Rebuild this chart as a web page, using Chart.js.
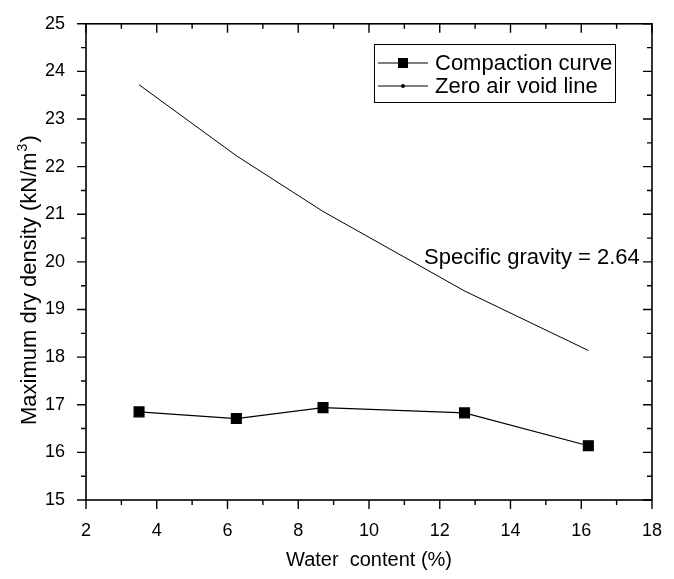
<!DOCTYPE html>
<html>
<head>
<meta charset="utf-8">
<script src="https://cdn.jsdelivr.net/npm/chart.js@4.4.1/dist/chart.umd.min.js"></script>
<style>
  html, body { margin: 0; padding: 0; background: #fff; }
  #wrap { width: 674px; height: 579px; }
</style>
</head>
<body>
<div id="wrap"><canvas id="chart" width="674" height="579"></canvas></div>
<script>
// water content (%) and dry density (kN/m3)
const waterContent = [3.5, 6.25, 8.7, 12.7, 16.2];
const compactionDensity = [16.85, 16.71, 16.94, 16.83, 16.14];
const zeroAirVoid = [23.72, 22.23, 21.06, 19.39, 18.14];
const xTicks = [2, 4, 6, 8, 10, 12, 14, 16, 18];
const yTicks = [15, 16, 17, 18, 19, 20, 21, 22, 23, 24, 25];
const legendLabels = ["Compaction curve", "Zero air void line"];
const noteText = "Specific gravity = 2.64";
const yTitle = ["Maximum dry density (kN/m", "3", ")"];

const FONT = "'Liberation Sans', Arial, sans-serif";

function toPoints(xs, ys) {
    return xs.map((x, i) => ({ x: x, y: ys[i] }));
}

// frame, ticks (inside on top/right, outside on bottom/left), legend, note, y title
const framePlugin = {
    id: "frame",
    afterDraw(chart) {
        const ctx = chart.ctx;
        const a = chart.chartArea;
        const xs = chart.scales.x, ys = chart.scales.y;
        ctx.save();
        ctx.strokeStyle = "#000";
        ctx.lineWidth = 1.6;
        ctx.strokeRect(a.left, a.top, a.right - a.left, a.bottom - a.top);

        ctx.lineWidth = 1.4;
        ctx.beginPath();
        for (let v = xs.min; v <= xs.max + 1e-9; v += 1) {
            const px = xs.getPixelForValue(v);
            const len = xTicks.includes(v) ? 9 : 5;
            ctx.moveTo(px, a.bottom); ctx.lineTo(px, a.bottom + len);
            ctx.moveTo(px, a.top); ctx.lineTo(px, a.top + len);
        }
        for (let v = ys.min; v <= ys.max + 1e-9; v += 0.5) {
            const py = ys.getPixelForValue(v);
            const len = yTicks.includes(v) ? 9 : 5;
            ctx.moveTo(a.left, py); ctx.lineTo(a.left - len, py);
            ctx.moveTo(a.right, py); ctx.lineTo(a.right - len, py);
        }
        ctx.stroke();

        // legend box
        const lx = 374, ly = 44, lw = 241, lh = 58;
        ctx.lineWidth = 1;
        ctx.strokeRect(lx + 0.5, ly + 0.5, lw, lh);
        const rows = [63, 86];
        ctx.font = "22px " + FONT;
        ctx.textBaseline = "middle";
        ctx.fillStyle = "#000";
        rows.forEach((ry, i) => {
            ctx.beginPath();
            ctx.lineWidth = 1.2;
            ctx.moveTo(378, ry); ctx.lineTo(428, ry);
            ctx.stroke();
            if (i === 0) {
                ctx.fillRect(398, ry - 5, 10, 10);
            } else {
                ctx.beginPath();
                ctx.arc(403, ry, 2, 0, Math.PI * 2);
                ctx.fill();
            }
            ctx.fillText(legendLabels[i], 435, ry + 1);
        });

        ctx.fillText(noteText, 424, 258);

        // rotated y title with a real superscript
        ctx.translate(36, 425);
        ctx.rotate(-Math.PI / 2);
        ctx.textBaseline = "alphabetic";
        ctx.font = "22px " + FONT;
        let tx = 0;
        ctx.fillText(yTitle[0], tx, 0);
        tx += ctx.measureText(yTitle[0]).width;
        ctx.font = "14px " + FONT;
        ctx.fillText(yTitle[1], tx + 1, -9);
        tx += ctx.measureText(yTitle[1]).width + 2;
        ctx.font = "22px " + FONT;
        ctx.fillText(yTitle[2], tx, 0);
        ctx.restore();
    }
};

new Chart(document.getElementById("chart"), {
    type: "line",
    data: {
        datasets: [{
            label: legendLabels[0],
            data: toPoints(waterContent, compactionDensity),
            borderColor: "#000",
            backgroundColor: "#000",
            borderWidth: 1.2,
            pointStyle: "rect",
            pointRadius: 7,
            pointHoverRadius: 7,
            tension: 0
        }, {
            label: legendLabels[1],
            data: toPoints(waterContent, zeroAirVoid),
            borderColor: "#000",
            backgroundColor: "#000",
            borderWidth: 1,
            pointRadius: 0,
            tension: 0
        }]
    },
    options: {
        responsive: false,
        animation: false,
        layout: { padding: { top: 15, right: 12, left: 0, bottom: 0 } },
        plugins: { legend: { display: false }, tooltip: { enabled: false } },
        scales: {
            x: {
                type: "linear",
                min: 2, max: 18,
                afterFit: s => { s.height = 79; },
                afterBuildTicks: s => { s.ticks = xTicks.map(v => ({ value: v })); },
                grid: { display: false },
                border: { display: false },
                ticks: { color: "#000", padding: 12, font: { family: FONT, size: 18 }, maxRotation: 0 },
                title: { display: true, text: "Water  content (%)", color: "#000",
                         font: { family: FONT, size: 20 }, padding: { top: 0, bottom: 7 } }
            },
            y: {
                type: "linear",
                min: 15, max: 25,
                afterFit: s => { s.width = 86; },
                afterBuildTicks: s => { s.ticks = yTicks.map(v => ({ value: v })); },
                grid: { display: false },
                border: { display: false },
                ticks: { color: "#000", padding: 13, font: { family: FONT, size: 18 } }
            }
        }
    },
    plugins: [framePlugin]
});
</script>
</body>
</html>
